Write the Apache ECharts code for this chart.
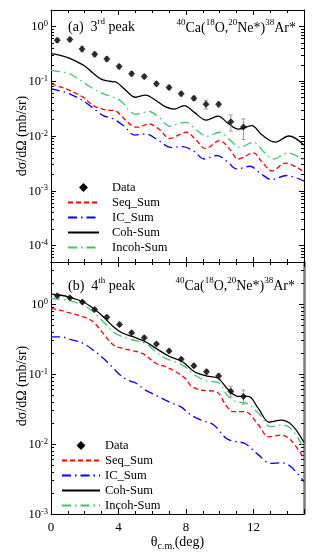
<!DOCTYPE html>
<html><head><meta charset="utf-8">
<script src="https://cdn.jsdelivr.net/npm/echarts@6/dist/echarts.min.js"></script>
<style>html,body{margin:0;padding:0;background:#fff}#c{width:315px;height:560px}</style>
</head><body><div id="c"></div>
<script>
// ---------- Panel (a): 3rd peak ----------
const aDataX = [0.37,1.12,1.84,2.59,3.31,4.04,4.78,5.53,6.25,7.0,7.72,8.47,9.19,9.94,10.66,11.41];
const aDataY = [0.56,0.58,0.39,0.31,0.255,0.185,0.137,0.122,0.090,0.077,0.059,0.049,0.038,0.038,0.0183,0.0146];
const aDataErr = [0.05,0.05,0.045,0.03,0.025,0.018,0.012,0.011,0.008,0.007,0.005,0.0045,0.007,0.004,0.006,0.006];

const aCohX = [0,0.5,1.0,1.5,2.0,2.5,3.0,3.5,3.9,4.4,5.0,5.6,6.2,6.8,7.3,7.9,8.5,9.2,9.9,10.5,11.1,11.9,12.5,13.3,14.1,15.0];
const aCohY = [0.32,0.30,0.27,0.23,0.19,0.14,0.108,0.100,0.095,0.070,0.051,0.056,0.045,0.034,0.031,0.036,0.027,0.0195,0.023,0.017,0.0133,0.0155,0.0105,0.0077,0.010,0.0068];

const aIncohX = [0,0.5,1.1,1.9,2.5,3.1,3.7,4.2,4.65,5.05,5.8,6.4,7.05,7.5,8.0,8.6,9.25,10.0,10.6,11.2,12.0,12.6,13.2,14.05,15.0];
const aIncohY = [0.158,0.150,0.137,0.097,0.073,0.059,0.051,0.042,0.029,0.025,0.028,0.022,0.015,0.0166,0.0178,0.013,0.0099,0.0117,0.0085,0.0062,0.0077,0.0052,0.0038,0.0049,0.0036];

const aSeqX = [0,0.5,1.1,1.9,2.5,3.2,3.8,4.25,4.85,5.15,5.8,6.4,7.05,7.5,8.0,8.6,9.15,10.0,10.6,11.1,12.0,12.5,13.1,13.9,15.0];
const aSeqY = [0.090,0.080,0.068,0.051,0.036,0.030,0.029,0.022,0.015,0.0145,0.0166,0.0134,0.009,0.0102,0.0117,0.0085,0.0059,0.0082,0.0057,0.0038,0.0049,0.0034,0.0023,0.0032,0.0022];

const aICX = [0,0.5,1.1,1.9,2.4,3.1,3.7,4.35,4.95,5.6,6.4,7.1,7.8,8.5,9.06,9.84,10.5,11.0,11.8,12.4,13.08,13.96,15.0];
const aICY = [0.073,0.067,0.059,0.044,0.034,0.0236,0.0205,0.015,0.0104,0.0109,0.0082,0.0062,0.0064,0.0052,0.0038,0.0044,0.0033,0.0025,0.0028,0.0021,0.0016,0.0019,0.0015];

// ---------- Panel (b): 4th peak ----------
const bDataX = [0.37,1.12,1.86,2.59,3.31,4.06,4.78,5.53,6.25,7.0,7.72,8.47,9.22,9.94,10.66,11.41];
const bDataY = [1.32,1.23,1.07,0.84,0.65,0.51,0.39,0.33,0.27,0.214,0.163,0.132,0.108,0.094,0.057,0.048];
const bDataErr = [0.06,0.05,0.05,0.04,0.04,0.03,0.02,0.02,0.015,0.012,0.01,0.008,0.009,0.007,0.010,0.011];

const bCohX = [0,0.5,1.1,1.9,2.5,3.1,3.7,4.2,4.85,5.6,6.2,7.0,7.8,8.5,9.2,9.9,10.5,11.1,11.7,12.3,12.95,13.65,14.3,15.0];
const bCohY = [1.39,1.35,1.26,1.08,0.87,0.66,0.475,0.39,0.342,0.29,0.235,0.18,0.15,0.108,0.094,0.087,0.060,0.048,0.048,0.032,0.0205,0.022,0.0185,0.0105];

const bIncohX = [0,0.5,1.1,1.9,2.5,3.1,3.7,4.25,4.85,5.6,6.2,6.8,7.4,7.9,8.5,9.2,9.9,10.45,11.0,11.5,12.4,13.0,13.75,14.3,15.0];
const bIncohY = [1.21,1.18,1.12,0.97,0.78,0.56,0.40,0.34,0.307,0.275,0.209,0.168,0.148,0.13,0.098,0.08,0.076,0.05,0.04,0.039,0.026,0.0177,0.0187,0.016,0.0086];

const bSeqX = [0,0.5,1.1,1.9,2.5,3.1,3.7,4.25,4.85,5.5,6.2,6.8,7.4,8.0,8.3,8.9,9.8,10.4,10.8,11.5,12.3,12.9,13.65,14.2,15.0];
const bSeqY = [0.87,0.82,0.75,0.66,0.56,0.38,0.26,0.233,0.216,0.193,0.143,0.127,0.108,0.085,0.068,0.059,0.056,0.035,0.029,0.029,0.0187,0.0127,0.0134,0.0115,0.0062];

const bICX = [0,0.6,1.2,1.9,2.5,3.1,3.7,4.1,4.55,5.05,5.6,6.2,7.0,7.7,8.3,8.9,9.65,10.4,11.0,11.5,12.3,13.0,13.65,14.2,15.0];
const bICY = [0.34,0.34,0.31,0.275,0.22,0.168,0.121,0.097,0.082,0.074,0.059,0.05,0.04,0.034,0.026,0.022,0.0187,0.012,0.0108,0.0102,0.007,0.0053,0.0054,0.0048,0.0029];

// ---------- axes ----------
const xMin = 0, xMax = 15, xMajor = 4, xMinor = 1;
const aYMin = 5e-5, aYMax = 2;
const bYMin = 1e-3, bYMax = 4;
const legendNames = ['Data','Seq_Sum','IC_Sum','Coh-Sum','Incoh-Sum'];
const yTitle = 'dσ/dΩ (mb/sr)';

const FONT = 'Liberation Serif';
const RED = '#ff0000', BLUE = '#0000ff', BLACK = '#000000', GREEN = '#3cc864';

function zip(xs, ys) { return xs.map((x, i) => [x, ys[i]]); }
function zip3(xs, ys, es) { return xs.map((x, i) => [x, ys[i], es[i]]); }
function logLabel(v) {
  const e = Math.log10(v), r = Math.round(e);
  if (Math.abs(e - r) > 1e-6) return '';
  return '{b|10}{s|' + r + '}';
}
function minorVals(lo, hi) {
  const out = [];
  for (let n = Math.floor(Math.log10(lo)); n <= Math.ceil(Math.log10(hi)); n++) {
    for (let k = 2; k <= 9; k++) {
      const v = k * Math.pow(10, n);
      if (v > lo && v < hi) out.push(Math.log10(v));
    }
  }
  return out;
}

const axisLineStyle = { color: '#000', width: 1 };
const labelRich = {
  b: { fontFamily: FONT, fontSize: 12.5, color: '#000', lineHeight: 14, verticalAlign: 'bottom' },
  s: { fontFamily: FONT, fontSize: 8.5, color: '#000', lineHeight: 9, verticalAlign: 'top' }
};

function yAxesFor(grid, lo, hi, rightColor, rightWidth) {
  return [
    { type: 'log', gridIndex: grid, position: 'left', min: lo, max: hi, logBase: 10,
      axisLine: { show: true, onZero: false, lineStyle: axisLineStyle },
      axisTick: { show: true, inside: true, length: 5, lineStyle: axisLineStyle },
      axisLabel: { show: true, margin: 3, formatter: logLabel, rich: labelRich },
      splitLine: { show: false } },
    { type: 'log', gridIndex: grid, position: 'right', min: lo, max: hi, logBase: 10,
      axisLine: { show: true, onZero: false, lineStyle: { color: rightColor, width: rightWidth } },
      axisTick: { show: true, inside: true, length: 5, lineStyle: axisLineStyle },
      axisLabel: { show: false }, splitLine: { show: false } },
    { type: 'value', gridIndex: grid, position: 'left', min: Math.log10(lo), max: Math.log10(hi),
      axisLine: { show: false, onZero: false },
      axisTick: { show: true, inside: true, length: 3, customValues: minorVals(lo, hi), lineStyle: axisLineStyle },
      axisLabel: { show: false }, splitLine: { show: false } },
    { type: 'value', gridIndex: grid, position: 'right', min: Math.log10(lo), max: Math.log10(hi),
      axisLine: { show: false, onZero: false },
      axisTick: { show: true, inside: true, length: 3, customValues: minorVals(lo, hi), lineStyle: axisLineStyle },
      axisLabel: { show: false }, splitLine: { show: false } }
  ];
}
function xAxesFor(grid, withLabels) {
  const main = { type: 'value', gridIndex: grid, position: 'bottom', min: xMin, max: xMax, interval: xMajor,
    axisLine: { show: true, onZero: false, lineStyle: axisLineStyle },
    axisTick: { show: true, inside: true, length: 5, lineStyle: axisLineStyle },
    axisLabel: { show: withLabels, margin: 7, fontFamily: FONT, fontSize: 13, color: '#000',
      formatter: v => (v % xMajor === 0 ? String(v) : '') },
    splitLine: { show: false } };
  if (withLabels) {
    main.name = '{t|θ}{c|c.m.}{t|(deg)}';
    main.nameLocation = 'middle';
    main.nameGap = 21;
    main.nameTextStyle = { rich: {
      t: { fontFamily: FONT, fontSize: 14, color: '#000', lineHeight: 16, verticalAlign: 'top' },
      c: { fontFamily: FONT, fontSize: 10, color: '#000', lineHeight: 11, verticalAlign: 'bottom' } } };
  }
  const top = { type: 'value', gridIndex: grid, position: 'top', min: xMin, max: xMax, interval: xMajor,
    axisLine: { show: true, onZero: false, lineStyle: axisLineStyle },
    axisTick: { show: true, inside: true, length: 5, lineStyle: axisLineStyle },
    axisLabel: { show: false }, splitLine: { show: false } };
  const minorB = { type: 'value', gridIndex: grid, position: 'bottom', min: xMin, max: xMax, interval: xMinor,
    axisLine: { show: false, onZero: false },
    axisTick: { show: true, inside: true, length: 3, lineStyle: axisLineStyle },
    axisLabel: { show: false }, splitLine: { show: false } };
  const minorT = Object.assign({}, minorB, { position: 'top' });
  return [main, top, minorB, minorT];
}

function errRender(params, api) {
  const x = api.value(0), y = api.value(1), e = api.value(2);
  const p1 = api.coord([x, y + e]);
  const p2 = api.coord([x, y - e]);
  const c = 2;
  const st = { stroke: '#9a9a9a', lineWidth: 1 };
  return { type: 'group', children: [
    { type: 'line', shape: { x1: p1[0], y1: p1[1], x2: p2[0], y2: p2[1] }, style: st },
    { type: 'line', shape: { x1: p1[0] - c, y1: p1[1], x2: p1[0] + c, y2: p1[1] }, style: st },
    { type: 'line', shape: { x1: p2[0] - c, y1: p2[1], x2: p2[0] + c, y2: p2[1] }, style: st }
  ] };
}

function panelSeries(xi, yi, dX, dY, dE, seq, ic, coh, incoh) {
  const base = { xAxisIndex: xi, yAxisIndex: yi };
  const lw = 1.3;
  return [
    Object.assign({ name: 'err' + xi, type: 'custom', renderItem: errRender, data: zip3(dX, dY, dE),
      encode: { x: 0, y: 1 }, z: 3, silent: true }, base),
    Object.assign({ name: 'Seq_Sum', type: 'line', data: seq, smooth: 0.35, symbol: 'none',
      lineStyle: { color: RED, width: lw, type: [5, 3] }, itemStyle: { color: RED }, z: 2 }, base),
    Object.assign({ name: 'IC_Sum', type: 'line', data: ic, smooth: 0.35, symbol: 'none',
      lineStyle: { color: BLUE, width: lw, type: [9, 4, 1.5, 4] }, itemStyle: { color: BLUE }, z: 2 }, base),
    Object.assign({ name: 'Coh-Sum', type: 'line', data: coh, smooth: 0.35, symbol: 'none',
      lineStyle: { color: BLACK, width: lw }, itemStyle: { color: BLACK }, z: 2 }, base),
    Object.assign({ name: 'Incoh-Sum', type: 'line', data: incoh, smooth: 0.35, symbol: 'none',
      lineStyle: { color: GREEN, width: lw, type: [9, 4, 1.5, 4] }, itemStyle: { color: GREEN }, z: 2 }, base),
    Object.assign({ name: 'Data', type: 'scatter', data: zip(dX, dY), symbol: 'diamond', symbolSize: 7,
      itemStyle: { color: '#000' }, z: 5 }, base)
  ];
}

const supRich = {
  n: { fontFamily: FONT, fontSize: 14, fill: '#000', lineHeight: 17, verticalAlign: 'bottom' },
  s: { fontFamily: FONT, fontSize: 9, fill: '#000', lineHeight: 9, verticalAlign: 'top' }
};
function reactionText() {
  return '{s|40}{n|Ca(}{s|18}{n|O,}{s|20}{n|Ne*)}{s|38}{n|Ar*}';
}
function legendData() {
  return legendNames.map(n => n === 'Data'
    ? { name: n, icon: 'path://M5,0L10,5L5,10L0,5Z', itemStyle: { opacity: 1, color: '#000' } }
    : { name: n, itemStyle: { opacity: 0 } });
}
function yTitleText(cx, cy) {
  return { type: 'text', x: cx, y: cy, rotation: Math.PI / 2, silent: true,
    style: { text: yTitle, align: 'center', verticalAlign: 'middle',
      font: '14px "Liberation Serif"', fill: '#000' } };
}

const option = {
  animation: false,
  backgroundColor: '#fff',
  grid: [
    { left: 51, top: 10, width: 253, height: 252, containLabel: false },
    { left: 51, top: 262, width: 253, height: 252, containLabel: false }
  ],
  xAxis: xAxesFor(0, false).concat(xAxesFor(1, true)),
  yAxis: yAxesFor(0, aYMin, aYMax, '#000', 1).concat(yAxesFor(1, bYMin, bYMax, '#7a7a7a', 2.5)),
  legend: [
    { orient: 'vertical', left: 67, top: 181, padding: 0, itemWidth: 31, itemHeight: 9, itemGap: 2,
      symbolKeepAspect: true, selectedMode: false,
      textStyle: { fontFamily: FONT, fontSize: 12.5, color: '#000', padding: [0, 0, 0, 8] },
      data: legendData() },
    { orient: 'vertical', left: 61, top: 439, padding: 0, itemWidth: 38, itemHeight: 9, itemGap: 2,
      symbolKeepAspect: true, selectedMode: false,
      textStyle: { fontFamily: FONT, fontSize: 12.5, color: '#000' },
      data: legendData() }
  ],
  graphic: [
    yTitleText(22, 136),
    yTitleText(22, 386),
    { type: 'text', left: 68, top: 17, style: { text: '{n|(a)  3}{s|rd}{n| peak}', rich: supRich } },
    { type: 'text', right: 19, top: 18, style: { text: reactionText(), rich: supRich } },
    { type: 'text', left: 68, top: 276, style: { text: '{n|(b)  4}{s|th}{n| peak}', rich: supRich } },
    { type: 'text', right: 20, top: 276, style: { text: reactionText(), rich: supRich } }
  ],
  series: panelSeries(0, 0, aDataX, aDataY, aDataErr, zip(aSeqX, aSeqY), zip(aICX, aICY), zip(aCohX, aCohY), zip(aIncohX, aIncohY))
    .concat(panelSeries(4, 4, bDataX, bDataY, bDataErr, zip(bSeqX, bSeqY), zip(bICX, bICY), zip(bCohX, bCohY), zip(bIncohX, bIncohY)))
};

const chart = echarts.init(document.getElementById('c'), null, { renderer: 'canvas' });
chart.setOption(option);
</script></body></html>
